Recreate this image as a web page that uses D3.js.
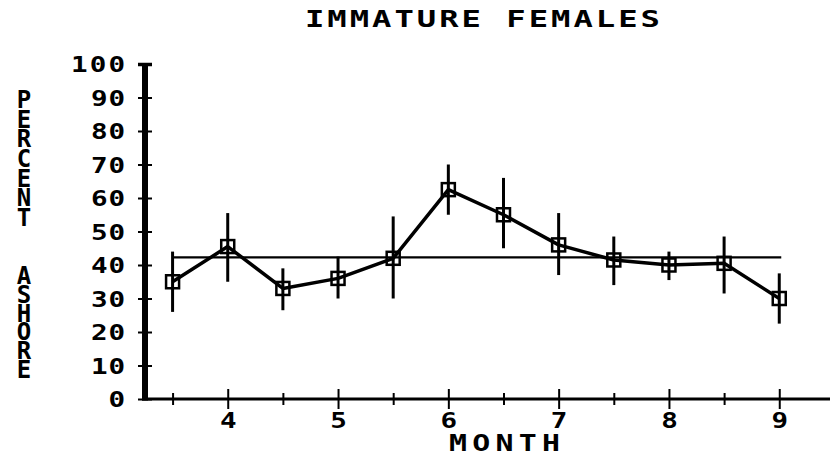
<!DOCTYPE html>
<html>
<head>
<meta charset="utf-8">
<script src="https://cdn.jsdelivr.net/npm/d3@7"></script>
<style>
  html, body { margin: 0; padding: 0; background: #fff; }
  svg { display: block; }
  text { font-family: "DejaVu Sans Mono", "Liberation Mono", monospace; font-weight: bold; fill: #000; }
</style>
</head>
<body>
<div id="chart"></div>
<script>
// ---- data ----
const titleText = "IMMATURE FEMALES";
const xLabelText = "MONTH";
const yLabelWords = ["PERCENT", "ASHORE"];
const months   = [3.5, 4, 4.5, 5, 5.5, 6, 6.5, 7, 7.5, 8, 8.5, 9];
const percent  = [35, 45.5, 33, 36, 42, 62.5, 55, 46, 41.5, 40, 40.5, 30];
const errLow   = [26, 35, 26.5, 30, 30, 55, 45, 37, 34, 35.5, 31.5, 22.5];
const errHigh  = [44, 55.5, 39, 42.5, 54.5, 70, 66, 55.5, 48.5, 44, 48.5, 37.5];
const meanPercent = 42.3;
const meanRange = [3.5, 9];
const yTicks = [0, 10, 20, 30, 40, 50, 60, 70, 80, 90, 100];
const xMajorTicks = [4, 5, 6, 7, 8, 9];
const xMinorTicks = [3.5, 4.5, 5.5, 6.5, 7.5, 8.5];

// ---- layout ----
const W = 830, H = 459;
const svg = d3.select("#chart").append("svg").attr("width", W).attr("height", H);

const x = d3.scaleLinear().domain([3.25, 9.46]).range([145, 830]);
const y = d3.scaleLinear().domain([0, 100]).range([399, 64]);

const PITCH = 20;
const SX = 1.15;

// pixel-font look: glyphs widened and squashed vertically
function pixFont(sel, size, sy, baseX, baseY, len) {
  sel.attr("font-size", size)
     .attr("transform", `scale(${SX},${sy})`)
     .attr("x", baseX / SX)
     .attr("y", baseY / sy)
     .attr("dy", null)
     .attr("font-family", "DejaVu Sans Mono")
     .attr("font-weight", "bold")
     .attr("fill", "#000");
  if (len) sel.attr("textLength", len / SX).attr("lengthAdjust", "spacing");
}

// Title
const title = svg.append("text").text(titleText);
pixFont(title, 28, 0.82, 305, 27, 355);

// Y axis
const yAxis = d3.axisLeft(y).tickValues(yTicks).tickSize(7).tickFormat(d => d);
const gy = svg.append("g").attr("transform", `translate(${x(3.25)},0)`).call(yAxis);
gy.select(".domain").remove();
gy.selectAll(".tick line")
  .attr("x1", -7).attr("x2", 7)
  .attr("stroke", "#000").attr("stroke-width", d => d === 100 ? 3.5 : 2);
gy.selectAll(".tick text")
  .attr("text-anchor", "end")
  .each(function(d) {
    const s = String(d);
    pixFont(d3.select(this), 24, 0.85, -20, 7.5, s.length * PITCH - 6);
  });
svg.append("line")
  .attr("x1", x(3.25)).attr("x2", x(3.25))
  .attr("y1", y(100) - 1).attr("y2", y(0) + 1.5)
  .attr("stroke", "#000").attr("stroke-width", 6);

// X axis
const xAxis = d3.axisBottom(x).tickValues(xMajorTicks.concat(xMinorTicks)).tickSize(10)
  .tickFormat(d => xMajorTicks.includes(d) ? d : "");
const gx = svg.append("g").attr("transform", `translate(0,${y(0)})`).call(xAxis);
gx.select(".domain").remove();
gx.selectAll(".tick line")
  .attr("y1", d => xMajorTicks.includes(d) ? -10 : -6)
  .attr("y2", d => xMajorTicks.includes(d) ? 10 : 6)
  .attr("stroke", "#000").attr("stroke-width", 2);
gx.selectAll(".tick text").each(function() { pixFont(d3.select(this), 24, 0.85, 0, 29); });
svg.append("line")
  .attr("x1", x(3.25) - 3).attr("x2", W)
  .attr("y1", y(0)).attr("y2", y(0))
  .attr("stroke", "#000").attr("stroke-width", 3);

// X label
const xl = svg.append("text").text(xLabelText);
pixFont(xl, 26, 0.85, 449, 451, 111);

// Y label (stacked upright letters)
const yLabStarts = [86, 262];
const yLabLengths = [146, 122];
yLabelWords.forEach((w, i) => {
  svg.append("text")
    .attr("x", 24).attr("y", yLabStarts[i])
    .attr("font-size", 24)
    .style("writing-mode", "vertical-rl")
    .style("text-orientation", "upright")
    .attr("textLength", yLabLengths[i]).attr("lengthAdjust", "spacing")
    .text(w);
});

// Mean line
svg.append("line")
  .attr("x1", x(meanRange[0])).attr("x2", x(meanRange[1]) + 2)
  .attr("y1", y(meanPercent)).attr("y2", y(meanPercent))
  .attr("stroke", "#000").attr("stroke-width", 2.2);

// Error bars
const data = months.map((m, i) => ({ m, v: percent[i], lo: errLow[i], hi: errHigh[i] }));
svg.append("g").selectAll("line").data(data).join("line")
  .attr("x1", d => x(d.m)).attr("x2", d => x(d.m))
  .attr("y1", d => y(d.hi)).attr("y2", d => y(d.lo))
  .attr("stroke", "#000").attr("stroke-width", 3);

// Data line
svg.append("path")
  .datum(data)
  .attr("fill", "none").attr("stroke", "#000").attr("stroke-width", 3.5)
  .attr("stroke-linejoin", "round")
  .attr("d", d3.line().x(d => x(d.m)).y(d => y(d.v)));

// Markers
const S = 13;
svg.append("g").selectAll("rect").data(data).join("rect")
  .attr("x", d => x(d.m) - S / 2).attr("y", d => y(d.v) - S / 2)
  .attr("width", S).attr("height", S)
  .attr("fill", "none").attr("stroke", "#000").attr("stroke-width", 2.5);
</script>
</body>
</html>
